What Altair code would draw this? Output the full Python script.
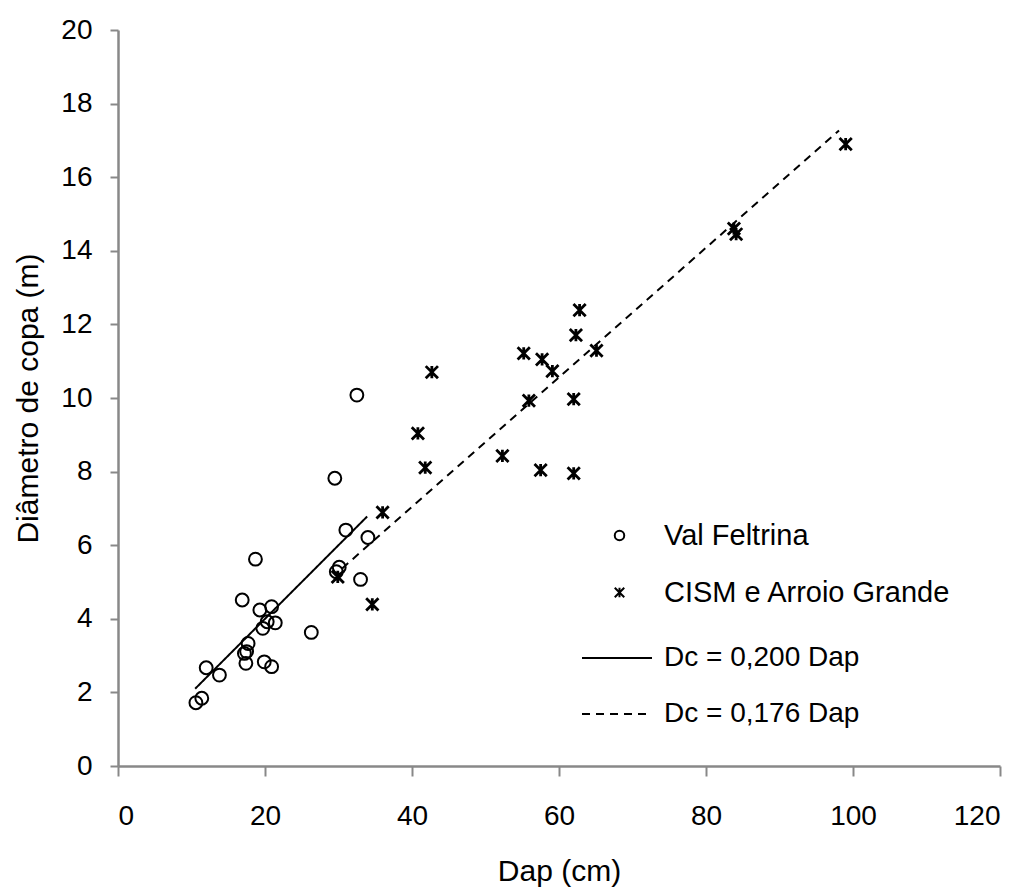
import altair as alt
import pandas as pd

# ---- data ----
vf_dap = [10.6, 11.4, 12.0, 13.8, 16.9, 17.2, 17.5, 17.4, 17.7, 18.7, 19.3, 19.7, 19.9,
          20.3, 20.9, 20.9, 21.4, 26.3, 29.5, 29.7, 30.1, 31.0, 32.5, 33.0, 34.0]
vf_dc = [1.72, 1.84, 2.67, 2.47, 4.51, 3.06, 3.11, 2.79, 3.33, 5.62, 4.24, 3.74, 2.83,
         3.92, 4.33, 2.70, 3.89, 3.63, 7.82, 5.28, 5.40, 6.41, 10.08, 5.07, 6.21]

cism_dap = [29.9, 34.6, 36.0, 40.8, 41.8, 42.7, 52.3, 55.2, 55.9, 57.5, 57.7, 59.1, 62.0,
            62.0, 62.3, 62.8, 65.1, 83.8, 84.1, 99.0]
cism_dc = [5.14, 4.39, 6.89, 9.04, 8.11, 10.70, 8.43, 11.21, 9.93, 8.04, 11.05, 10.73, 9.97,
           7.95, 11.71, 12.39, 11.29, 14.60, 14.45, 16.90]

fit1_dap = [10.5, 33.9]
fit1_dc = [2.10, 6.78]
fit2_dap = [30.5, 98.1]
fit2_dc = [5.37, 17.27]

point_series = ["Val Feltrina", "CISM e Arroio Grande"]
line_series = ["Dc = 0,200 Dap", "Dc = 0,176 Dap"]

x_ticks = [0, 20, 40, 60, 80, 100, 120]
y_ticks = [0, 2, 4, 6, 8, 10, 12, 14, 16, 18, 20]

FONT = "Liberation Sans"
GREY = "#888888"
CROSS = "M-1,-1L1,1M-1,1L1,-1M0,-1L0,1"

df_vf = pd.DataFrame({"Dap": vf_dap, "Dc": vf_dc, "Serie": point_series[0]})
df_cism = pd.DataFrame({"Dap": cism_dap, "Dc": cism_dc, "Serie": point_series[1]})
df_lines = pd.concat([
    pd.DataFrame({"Dap": fit1_dap, "Dc": fit1_dc, "Linha": line_series[0]}),
    pd.DataFrame({"Dap": fit2_dap, "Dc": fit2_dc, "Linha": line_series[1]}),
])

x_enc = alt.X("Dap:Q",
              scale=alt.Scale(domain=[0, 120], nice=False, zero=False),
              axis=alt.Axis(values=x_ticks, title="Dap (cm)", tickSize=10,
                            labelPadding=26, titlePadding=26))
y_enc = alt.Y("Dc:Q",
              scale=alt.Scale(domain=[0, 20], nice=False, zero=False),
              axis=alt.Axis(values=y_ticks, title="Diâmetro de copa (m)", tickSize=8,
                            labelPadding=18, titlePadding=17))

shape_enc = alt.Shape("Serie:N",
                      scale=alt.Scale(domain=point_series, range=["circle", CROSS]),
                      legend=alt.Legend(title=None, orient="none", legendX=487, legendY=491,
                                        symbolSize=90, symbolStrokeWidth=2,
                                        symbolStrokeColor="black", symbolFillColor="white",
                                        labelOffset=30, rowPadding=27, labelLimit=500,
                                        labelFont=FONT, labelFontSize=29, labelColor="black",
                                        padding=0))

pts_vf = alt.Chart(df_vf).mark_point(filled=False, color="black", strokeWidth=2,
                                     size=165, opacity=1).encode(
    x=x_enc, y=y_enc, shape=shape_enc)
pts_cism = alt.Chart(df_cism).mark_point(filled=False, color="black", strokeWidth=2.8,
                                         size=150, opacity=1).encode(
    x=x_enc, y=y_enc, shape=shape_enc)

lines = alt.Chart(df_lines).mark_line(color="black", strokeWidth=2).encode(
    x=x_enc, y=y_enc,
    strokeDash=alt.StrokeDash("Linha:N",
                              scale=alt.Scale(domain=line_series, range=[[1, 0], [8, 6]]),
                              legend=alt.Legend(title=None, orient="none", legendX=463,
                                                legendY=592, symbolType="stroke",
                                                symbolSize=4900, symbolStrokeWidth=2,
                                                symbolStrokeColor="black",
                                                labelOffset=11, rowPadding=6,
                                                labelLimit=500, labelFont=FONT,
                                                labelFontSize=28, labelColor="black",
                                                padding=0)),
)

chart = alt.layer(lines, pts_vf, pts_cism).properties(
    width=882, height=736,
    background="white",
    autosize=alt.AutoSizeParams(type="none"),
    padding={"left": 118, "top": 30, "right": 29, "bottom": 122},
).configure_view(stroke=None).configure_axis(
    grid=False, domainColor=GREY, domainWidth=2.5, tickColor=GREY, tickWidth=2,
    labelFont=FONT, labelFontSize=28, labelColor="black",
    titleFont=FONT, titleFontSize=30, titleFontWeight="normal", titleColor="black",
)

chart.save("out.html", embed_options={"renderer": "svg", "actions": False})
